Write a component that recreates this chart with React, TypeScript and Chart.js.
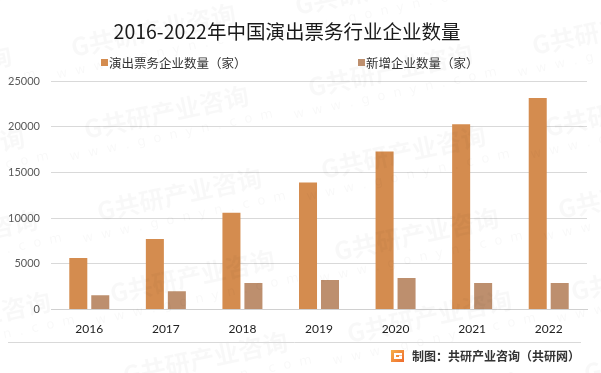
import React, { useEffect, useRef } from "react";
import { Chart, registerables } from "chart.js";

Chart.register(...registerables);

const categories = ["2016", "2017", "2018", "2019", "2020", "2021", "2022"];
const seriesTotal = [5640, 7730, 10590, 13890, 17300, 20270, 23130];
const seriesNew = [1580, 2020, 2900, 3230, 3450, 2900, 2900];
const seriesNames = ["演出票务企业数量（家）", "新增企业数量（家）"];
const seriesColors = ["#D48C4F", "#BD8F6E"];
const yTicks = [0, 5000, 10000, 15000, 20000, 25000];
const titleText = "2016-2022年中国演出票务行业企业数量";
const footerText = "制图：共研产业咨询（共研网）";

const CJK = '"Noto Sans CJK SC", "Noto Sans", sans-serif';

const watermarkPlugin = {
  id: "watermark",
  afterDraw(chart: any) {
    const ctx = chart.ctx as CanvasRenderingContext2D;
    ctx.save();
    ctx.fillStyle = "rgba(0,0,0,0.028)";
    for (let c = -1; c <= 2; c++) {
      for (let r = -2; r <= 3; r++) {
        const cx = 168 + c * 237 + r * 13;
        const cy = 120 + c * 40 + r * 82;
        ctx.save();
        ctx.translate(cx, cy);
        ctx.rotate(-0.21);
        ctx.textAlign = "center";
        ctx.textBaseline = "middle";
        ctx.font = `bold 25px ${CJK}`;
        ctx.fillText("G共研产业咨询", 0, -8);
        ctx.font = `13px "DejaVu Sans", sans-serif`;
        ctx.fillText("w  w  w  .  g  o  n  y  n  .  c  o  m", 0, 16);
        ctx.restore();
      }
    }
    ctx.restore();
  },
};

const decorPlugin = {
  id: "decor",
  afterDraw(chart: any) {
    const ctx = chart.ctx as CanvasRenderingContext2D;
    ctx.save();
    // title
    ctx.fillStyle = "#1a1a1a";
    ctx.font = `19.5px ${CJK}`;
    ctx.textAlign = "center";
    ctx.textBaseline = "middle";
    ctx.fillText(titleText, 287, 32);
    // legend
    const legendX = [101, 358];
    ctx.font = `12.5px ${CJK}`;
    ctx.textAlign = "left";
    chart.data.datasets.forEach((ds: any, i: number) => {
      ctx.fillStyle = ds.backgroundColor;
      ctx.fillRect(legendX[i], 59, 7, 7);
      ctx.fillStyle = "#333333";
      ctx.fillText(ds.label, legendX[i] + 8, 63);
    });
    // separator line
    ctx.strokeStyle = "#d9d9d9";
    ctx.lineWidth = 1;
    ctx.beginPath();
    ctx.moveTo(8, 342.5);
    ctx.lineTo(581, 342.5);
    ctx.stroke();
    // footer logo
    const g = ctx.createLinearGradient(391, 350, 404, 362);
    g.addColorStop(0, "#F7B04A");
    g.addColorStop(1, "#EE6A2C");
    ctx.fillStyle = g;
    ctx.fillRect(391, 350, 13, 12);
    ctx.fillStyle = "#ffffff";
    ctx.fillRect(394, 353, 8, 2);
    ctx.fillRect(394, 353, 2, 6);
    ctx.fillRect(394, 357, 8, 2);
    ctx.fillRect(399, 355.5, 3, 2);
    // footer text
    ctx.fillStyle = "#333333";
    ctx.font = `bold 12px ${CJK}`;
    ctx.textAlign = "left";
    ctx.fillText(footerText, 412, 356);
    ctx.restore();
  },
};

export default function App() {
  const ref = useRef<HTMLCanvasElement>(null);
  useEffect(() => {
    document.body.style.margin = "0";
    const chart = new Chart(ref.current!, {
      type: "bar",
      data: {
        labels: categories,
        datasets: [
          {
            label: seriesNames[0],
            data: seriesTotal,
            backgroundColor: seriesColors[0],
            categoryPercentage: 0.574,
            barPercentage: 0.82,
          },
          {
            label: seriesNames[1],
            data: seriesNew,
            backgroundColor: seriesColors[1],
            categoryPercentage: 0.574,
            barPercentage: 0.82,
          },
        ],
      },
      options: {
        responsive: false,
        animation: false,
        layout: { padding: { top: 81, left: 8, right: 14, bottom: 33 } },
        plugins: {
          legend: { display: false },
          title: { display: false },
          tooltip: { enabled: false },
        },
        scales: {
          x: {
            grid: { display: false },
            border: { color: "#d0d0d0" },
            ticks: { color: "#222222", font: { family: "Lato", size: 12 }, padding: 4 },
          },
          y: {
            min: 0,
            max: 25000,
            afterBuildTicks: (axis: any) => {
              axis.ticks = yTicks.map((v) => ({ value: v }));
            },
            afterFit: (axis: any) => {
              axis.width = 43;
            },
            grid: { color: "#d9d9d9", drawTicks: false },
            border: { display: false },
            ticks: {
              color: "#595959",
              font: { family: "Lato", size: 11 },
              padding: 11,
              callback: (v: any) => String(v),
            },
          },
        },
      },
      plugins: [watermarkPlugin, decorPlugin],
    });
    return () => chart.destroy();
  }, []);
  return (
    <div style={{ width: 601, height: 373, background: "#fff" }}>
      <canvas ref={ref} width={601} height={373} />
    </div>
  );
}
